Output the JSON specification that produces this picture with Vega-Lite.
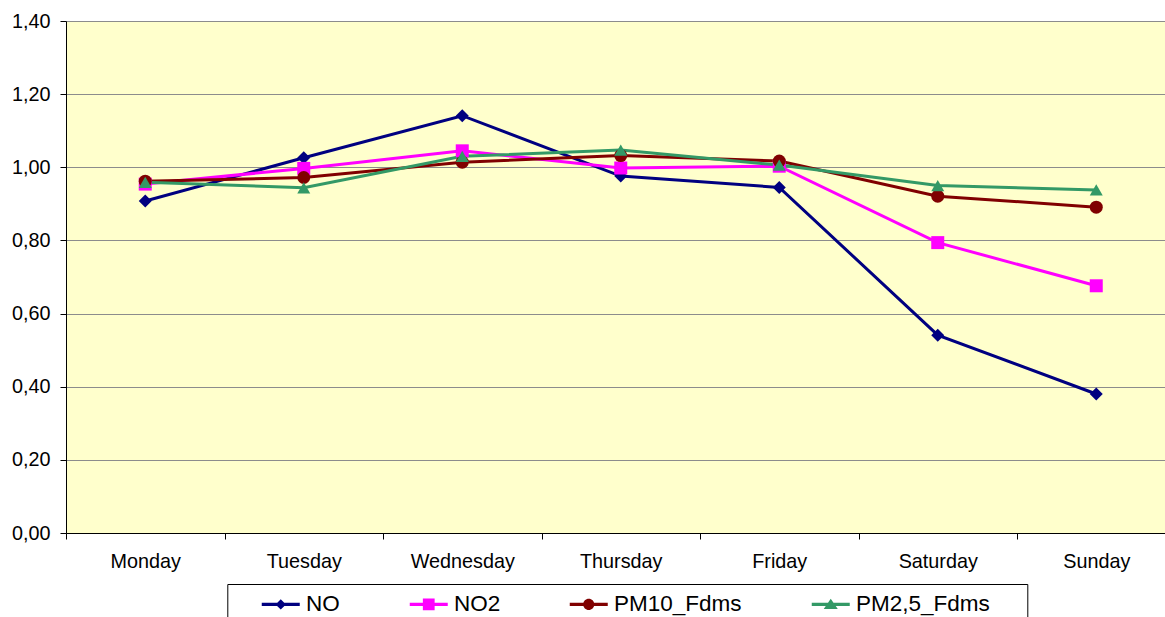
{
  "$schema": "https://vega.github.io/schema/vega-lite/v6.json",
  "width": 1099,
  "height": 512,
  "autosize": {"type": "none"},
  "padding": {"left": 66, "top": 21, "right": 0, "bottom": 84},
  "background": "white",
  "config": {
    "font": "Liberation Sans",
    "view": {"fill": "#FFFFCC", "stroke": null},
    "axis": {"labelFont": "Liberation Sans", "labelFontSize": 19.8, "labelColor": "black", "domainColor": "black", "tickColor": "black", "tickSize": 6, "domainWidth": 1, "tickWidth": 1}
  },
  "data": {
    "values": [
      {"day": "Monday", "series": "NO", "value": 0.908},
      {"day": "Tuesday", "series": "NO", "value": 1.026},
      {"day": "Wednesday", "series": "NO", "value": 1.141},
      {"day": "Thursday", "series": "NO", "value": 0.976},
      {"day": "Friday", "series": "NO", "value": 0.945},
      {"day": "Saturday", "series": "NO", "value": 0.541},
      {"day": "Sunday", "series": "NO", "value": 0.380},
      {"day": "Monday", "series": "NO2", "value": 0.954},
      {"day": "Tuesday", "series": "NO2", "value": 0.997},
      {"day": "Wednesday", "series": "NO2", "value": 1.045},
      {"day": "Thursday", "series": "NO2", "value": 0.998},
      {"day": "Friday", "series": "NO2", "value": 1.003},
      {"day": "Saturday", "series": "NO2", "value": 0.794},
      {"day": "Sunday", "series": "NO2", "value": 0.676},
      {"day": "Monday", "series": "PM10_Fdms", "value": 0.962},
      {"day": "Tuesday", "series": "PM10_Fdms", "value": 0.972},
      {"day": "Wednesday", "series": "PM10_Fdms", "value": 1.014},
      {"day": "Thursday", "series": "PM10_Fdms", "value": 1.032},
      {"day": "Friday", "series": "PM10_Fdms", "value": 1.017},
      {"day": "Saturday", "series": "PM10_Fdms", "value": 0.921},
      {"day": "Sunday", "series": "PM10_Fdms", "value": 0.891},
      {"day": "Monday", "series": "PM2,5_Fdms", "value": 0.959},
      {"day": "Tuesday", "series": "PM2,5_Fdms", "value": 0.944},
      {"day": "Wednesday", "series": "PM2,5_Fdms", "value": 1.030},
      {"day": "Thursday", "series": "PM2,5_Fdms", "value": 1.047},
      {"day": "Friday", "series": "PM2,5_Fdms", "value": 1.006},
      {"day": "Saturday", "series": "PM2,5_Fdms", "value": 0.950},
      {"day": "Sunday", "series": "PM2,5_Fdms", "value": 0.938}
    ]
  },
  "encoding": {
    "x": {
      "field": "day", "type": "nominal",
      "scale": {"type": "band", "domain": ["Monday", "Tuesday", "Wednesday", "Thursday", "Friday", "Saturday", "Sunday"], "range": [0, 1109.5], "paddingInner": 0, "paddingOuter": 0},
      "axis": {"title": null, "labelAngle": 0, "tickBand": "extent", "grid": false, "labelPadding": 12}
    },
    "y": {
      "field": "value", "type": "quantitative",
      "scale": {"domain": [0, 1.4], "nice": false, "zero": true},
      "axis": {"title": null, "values": [0, 0.2, 0.4, 0.6, 0.8, 1.0, 1.2, 1.4], "labelExpr": "replace(format(datum.value, '.2f'), '.', ',')", "grid": true, "gridColor": "#8C8C8C", "gridWidth": 1, "labelPadding": 10}
    },
    "color": {
      "field": "series", "type": "nominal",
      "scale": {"domain": ["NO", "NO2", "PM10_Fdms", "PM2,5_Fdms"], "range": ["#000080", "#FF00FF", "#800000", "#339966"]},
      "legend": {
        "orient": "none", "legendX": 161.3, "legendY": 563, "direction": "horizontal",
        "title": " ", "titleOrient": "right", "titleFontSize": 1, "titlePadding": 29,
        "padding": 9, "strokeColor": "black", "fillColor": "white",
        "labelFont": "Liberation Sans", "labelFontSize": 22.5, "labelColor": "black",
        "symbolSize": 361, "symbolOffset": 33.2, "labelOffset": 14, "columnPadding": 44,
        "symbolOpacity": 1, "symbolStrokeWidth": 0,
        "encode": {
          "symbols": {
            "update": {
              "shape": {"signal": "datum.value === 'NO' ? 'M-2,-0.16H2V0.16H-2ZM0,-0.55L0.55,0L0,0.55L-0.55,0Z' : datum.value === 'NO2' ? 'M-2,-0.16H2V0.16H-2ZM-0.62,-0.62H0.62V0.62H-0.62Z' : datum.value === 'PM10_Fdms' ? 'M-2,-0.16H2V0.16H-2ZM0.58,0A0.58,0.58 0 1,1 -0.58,0A0.58,0.58 0 1,1 0.58,0Z' : 'M-2,-0.16H2V0.16H-2ZM0,-0.6L0.74,0.48L-0.74,0.48Z'"},
              "fill": {"signal": "datum.value === 'NO' ? '#000080' : datum.value === 'NO2' ? '#FF00FF' : datum.value === 'PM10_Fdms' ? '#800000' : '#339966'"},
              "strokeWidth": {"value": 0},
              "opacity": {"value": 1}
            }
          }
        }
      }
    }
  },
  "layer": [
    {"mark": {"type": "line", "strokeWidth": 3}},
    {"transform": [{"filter": "datum.series === 'NO'"}], "mark": {"type": "point", "shape": "diamond", "filled": true, "opacity": 1, "size": 169}},
    {"transform": [{"filter": "datum.series === 'NO2'"}], "mark": {"type": "point", "shape": "square", "filled": true, "opacity": 1, "size": 169}},
    {"transform": [{"filter": "datum.series === 'PM10_Fdms'"}], "mark": {"type": "point", "shape": "circle", "filled": true, "opacity": 1, "size": 169}},
    {"transform": [{"filter": "datum.series === 'PM2,5_Fdms'"}], "mark": {"type": "point", "shape": "triangle-up", "filled": true, "opacity": 1, "size": 169}}
  ]
}
